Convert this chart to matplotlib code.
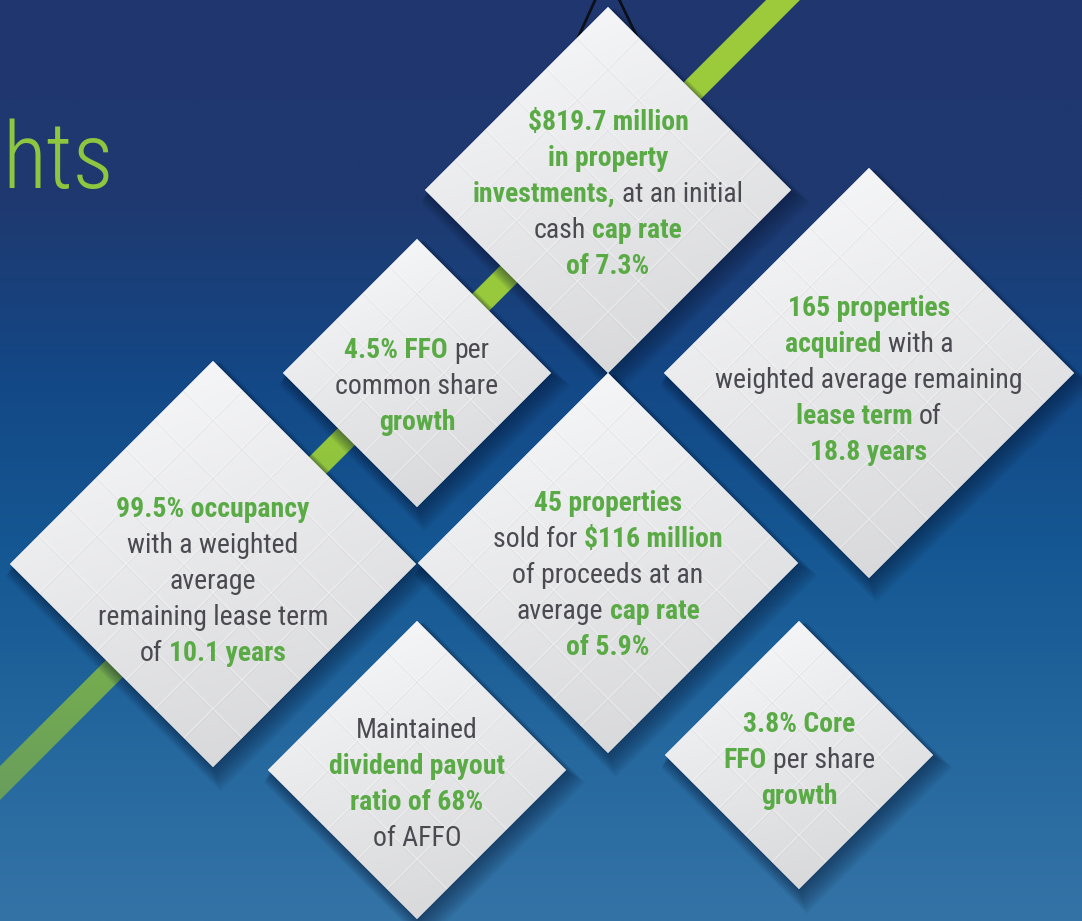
import numpy as np
import matplotlib
matplotlib.use("Agg")
import matplotlib.pyplot as plt
from matplotlib.patches import Polygon
from matplotlib import font_manager as fm

# ---------------- data (text content of the infographic) ----------------
title_text = "hts"   # visible tail of the cropped heading

# each line is a list of (text, style) ; style "g" = bold green, "n" = regular grey
text_investments = [
    [("$819.7 million", "g")],
    [("in property", "g")],
    [("investments,", "g"), ("at an initial", "n")],
    [("cash", "n"), ("cap rate", "g")],
    [("of 7.3%", "g")],
]
text_acquired = [
    [("165 properties", "g")],
    [("acquired", "g"), ("with a", "n")],
    [("weighted average remaining", "n")],
    [("lease term", "g"), ("of", "n")],
    [("18.8 years", "g")],
]
text_ffo = [
    [("4.5% FFO", "g"), ("per", "n")],
    [("common share", "n")],
    [("growth", "g")],
]
text_occupancy = [
    [("99.5% occupancy", "g")],
    [("with a weighted", "n")],
    [("average", "n")],
    [("remaining lease term", "n")],
    [("of", "n"), ("10.1 years", "g")],
]
text_sold = [
    [("45 properties", "g")],
    [("sold for", "n"), ("$116 million", "g")],
    [("of proceeds at an", "n")],
    [("average", "n"), ("cap rate", "g")],
    [("of 5.9%", "g")],
]
text_dividend = [
    [("Maintained", "n")],
    [("dividend payout", "g")],
    [("ratio of 68%", "g")],
    [("of AFFO", "n")],
]
text_core_ffo = [
    [("3.8% Core", "g")],
    [("FFO", "g"), ("per share", "n")],
    [("growth", "g")],
]

# ---------------- layout (pixel geometry) ----------------
W, H = 1082, 921
diamonds = [
    # (cx, cy, half-diagonal, text center y, text)
    (608, 190, 183, 192, text_investments),
    (869, 373, 205, 378, text_acquired),
    (417, 373, 134, 384, text_ffo),
    (213, 564, 203, 579, text_occupancy),
    (608, 563, 190, 573, text_sold),
    (417, 770, 149, 782, text_dividend),
    (799, 755, 134, 758, text_core_ffo),
]

GREEN_TXT = "#5aab46"
GREY_TXT = "#4a4a50"
LIME = "#8dc63f"
FS = 20
LINE_PITCH = 36

# ---------------- fonts ----------------
names = {f.name for f in fm.fontManager.ttflist}
body_family, body_stretch = None, "normal"
for cand in ["Liberation Sans Narrow", "Roboto Condensed", "Open Sans Condensed",
             "Noto Sans Condensed", "Ubuntu Condensed", "Arial Narrow"]:
    if cand in names:
        body_family = cand
        break
if body_family is None:
    if any(f.name == "DejaVu Sans" and f.stretch == "condensed" for f in fm.fontManager.ttflist):
        body_family, body_stretch = "DejaVu Sans", "condensed"
    else:
        body_family = "Lato"

# ---------------- figure ----------------
fig = plt.figure(figsize=(W / 100, H / 100), dpi=100)
ax = fig.add_axes([0, 0, 1, 1])
ax.set_xlim(0, W)
ax.set_ylim(H, 0)
ax.axis("off")

# background gradient
stops_y = np.array([0, 200, 380, 560, 760, 921])
stops_c = np.array([(31, 55, 110), (31, 57, 112), (19, 72, 134), (21, 88, 147),
                    (38, 105, 159), (52, 115, 166)]) / 255.0
yy = np.linspace(0, H, 400)
bg = np.stack([np.interp(yy, stops_y, stops_c[:, k]) for k in range(3)], axis=-1)
bg = np.repeat(bg[:, None, :], 2, axis=1)
ax.imshow(bg, extent=(0, W, H, 0), aspect="auto", zorder=0, interpolation="bilinear")

# green diagonal band  (centre line x + y = 783)
c0 = 783
hw = 12 / np.sqrt(2)
band = Polygon([(c0 + 20 + hw, -20 + hw), (c0 + 20 - hw, -20 - hw),
                (-20 - hw, c0 + 20 - hw), (-20 + hw, c0 + 20 + hw)], closed=True,
               facecolor="none", edgecolor="none")
ax.add_patch(band)
gy = np.array([0, 430, 600, 800, 921])
gc = np.array([(157, 203, 59), (150, 200, 60), (125, 180, 72), (104, 158, 92), (100, 150, 95)]) / 255.0
yy2 = np.linspace(0, H, 300)
gimg = np.stack([np.interp(yy2, gy, gc[:, k]) for k in range(3)], axis=-1)
gimg = np.repeat(gimg[:, None, :], 2, axis=1)
im = ax.imshow(gimg, extent=(0, W, H, 0), aspect="auto", zorder=1, interpolation="bilinear")
im.set_clip_path(band)

# hanging strings above top diamond
apex = (607, -26)
for px, py in [(577, 40), (638, 39)]:
    ax.plot([apex[0], px], [apex[1], py], color="#0d0f18", lw=2.0, zorder=2,
            solid_capstyle="butt")

# title (visible part)
ax.text(2, 188, title_text, fontsize=66, color=LIME, family=[body_family, "DejaVu Sans"],
        stretch=body_stretch, weight="light", ha="left", va="baseline", zorder=3)

renderer = fig.canvas.get_renderer()

def seg_props(style):
    return dict(fontsize=FS, family=body_family, stretch=body_stretch,
                weight="bold" if style == "g" else "normal",
                color=GREEN_TXT if style == "g" else GREY_TXT)

# space width in the regular font
t1 = ax.text(0, 0, "a a", **seg_props("n"))
t2 = ax.text(0, 0, "aa", **seg_props("n"))
SPACE = t1.get_window_extent(renderer).width - t2.get_window_extent(renderer).width
t1.remove(); t2.remove()


def draw_diamond(cx, cy, h, z):
    pts = [(cx, cy - h), (cx + h, cy), (cx, cy + h), (cx - h, cy)]
    # soft drop shadow
    for i in range(10):
        o = 2 + i * 1.2
        e = i * 1.3
        sp = [(cx + o * 0.6, cy - h - e + o), (cx + h + e + o * 0.6, cy + o),
              (cx + o * 0.6, cy + h + e + o), (cx - h - e + o * 0.6, cy + o)]
        ax.add_patch(Polygon(sp, closed=True, facecolor="#07142e", edgecolor="none",
                             alpha=0.055, zorder=z))
    poly = Polygon(pts, closed=True, facecolor="#e6e7e9", edgecolor="none", zorder=z + 0.1)
    ax.add_patch(poly)
    # gradient fill
    n = 80
    u = np.linspace(0, 1, n)
    X, Y = np.meshgrid(u, u)
    val = 0.965 - 0.10 * Y - 0.03 * X + 0.02 * (1 - Y) * (1 - X)
    img = np.stack([val, val + 0.002, val + 0.01], axis=-1).clip(0, 1)
    gi = ax.imshow(img, extent=(cx - h, cx + h, cy + h, cy - h), aspect="auto",
                   zorder=z + 0.2, interpolation="bilinear")
    gi.set_clip_path(poly)
    # subtle tile pattern
    nt = max(4, int(round(2 * h / 58)))
    step = 2 * h / nt
    for k in range(1, nt):
        d = -h + k * step
        for sgn in (1, -1):
            xs = np.array([cx - h, cx + h])
            if sgn == 1:
                ys = xs - (cx - cy) - d
            else:
                ys = (cx + cy) + d - xs
            l1, = ax.plot(xs, ys, color="white", lw=1.2, alpha=0.35, zorder=z + 0.3)
            l1.set_clip_path(poly)
            l2, = ax.plot(xs, ys + 1.4, color="#9a9ca3", lw=0.9, alpha=0.10, zorder=z + 0.3)
            l2.set_clip_path(poly)
    return poly


def draw_text_block(cx, tcy, lines, z):
    nl = len(lines)
    for i, segs in enumerate(lines):
        yc = tcy + (i - (nl - 1) / 2) * LINE_PITCH
        yb = yc + 10
        arts, widths = [], []
        for txt, st in segs:
            t = ax.text(0, yb, txt, ha="left", va="baseline", zorder=z, **seg_props(st))
            arts.append(t)
            widths.append(t.get_window_extent(renderer).width)
        total = sum(widths) + SPACE * (len(segs) - 1)
        x = cx - total / 2
        for t, w in zip(arts, widths):
            t.set_x(x)
            x += w + SPACE


for idx, (cx, cy, h, tcy, lines) in enumerate(diamonds):
    z = 5 + idx
    draw_diamond(cx, cy, h, z)
    draw_text_block(cx, tcy, lines, z + 0.5)

fig.savefig("out.png", dpi=100)
